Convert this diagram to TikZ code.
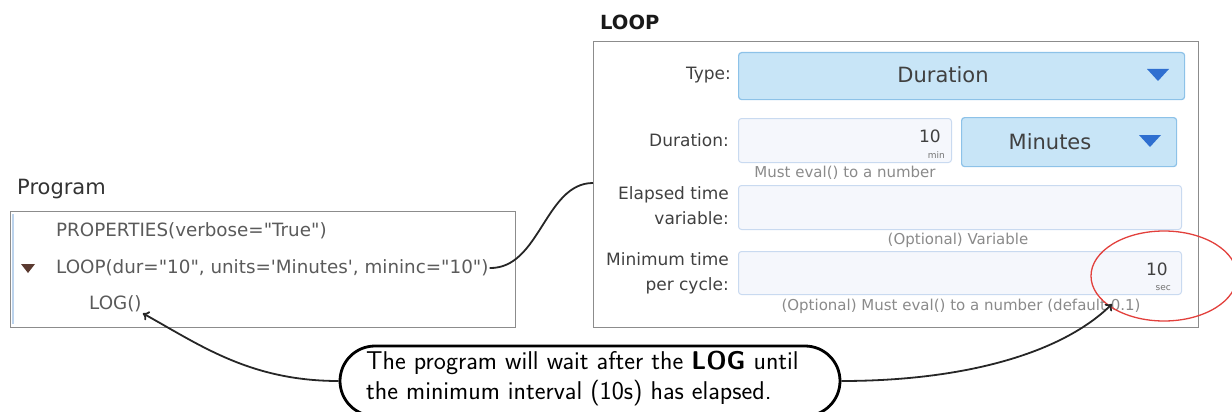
\documentclass[tikz,border=0pt]{standalone}
\usepackage{fontspec}
\setmainfont{DejaVu Sans}[Ligatures=TeXOff]
\usetikzlibrary{shapes.geometric,shapes.misc,arrows.meta}

\definecolor{frame}{HTML}{8C8C8C}
\definecolor{codetext}{HTML}{5A5A5A}
\definecolor{labeltext}{HTML}{404040}
\definecolor{hinttext}{HTML}{8A8A8A}
\definecolor{ddfill}{HTML}{C8E5F7}
\definecolor{ddborder}{HTML}{8DC2E8}
\definecolor{ddarrow}{HTML}{2F6FD0}
\definecolor{fieldfill}{HTML}{F5F7FC}
\definecolor{fieldborder}{HTML}{C9DAF0}
\definecolor{gutter}{HTML}{BCD3EC}
\definecolor{caret}{HTML}{5B3A30}
\definecolor{markred}{HTML}{E2403C}

\tikzset{
  boxframe/.style={draw=frame, line width=1.3pt, rectangle, anchor=north west, inner sep=0pt},
  dropdown/.style={draw=ddborder, fill=ddfill, line width=1.2pt, rounded corners=3pt, rectangle, anchor=north west, inner sep=0pt},
  field/.style={draw=fieldborder, fill=fieldfill, line width=1pt, rounded corners=3pt, rectangle, anchor=north west, inner sep=0pt},
  codeline/.style={anchor=west, inner sep=1pt, text=codetext, font=\fontsize{18.3}{20}\selectfont},
  formlabel/.style={anchor=east, inner sep=0pt, text=labeltext, align=right, font=\fontsize{17}{25}\selectfont},
  hint/.style={inner sep=0pt, text=hinttext, font=\fontsize{15}{17}\selectfont},
  ddtext/.style={inner sep=0pt, text=labeltext, font=\fontsize{21}{22}\selectfont},
  value/.style={anchor=east, inner sep=0pt, text=labeltext, font=\fontsize{17}{18}\selectfont},
  unit/.style={anchor=east, inner sep=0pt, text=black!55, font=\fontsize{9}{10}\selectfont},
  link/.style={draw=black!85, line width=1.8pt},
  pointer/.style={link, -{To[length=6pt,width=10pt]}},
}

\begin{document}
\begin{tikzpicture}[x=1pt,y=-1pt]
\useasboundingbox (0,0) rectangle (1232,412);

% ---------- program listing ----------
\node (proglabel) [anchor=west, inner sep=0pt, text=black!80, font=\fontsize{21}{23}\selectfont] at (17,189) {Program};
\node (prog) [boxframe, minimum width=505pt, minimum height=116pt] at (10,211) {};
\draw[gutter, line width=1.2pt] (13,214) -- (13,324);
\node (props) [codeline] at (55,231) {PROPERTIES(verbose="True")};
\fill[caret] (21,264) -- (35,264) -- (28,273) -- cycle;
\node (loopline) [codeline] at (55,268) {LOOP(dur="10", units='Minutes', mininc="10")};
\node (logline) [codeline] at (88,304) {LOG()};

% ---------- LOOP properties panel ----------
\node (looplabel) [anchor=west, inner sep=0pt, text=black!90, font=\bfseries\fontsize{19.5}{21}\selectfont] at (600,22) {LOOP};
\node (panel) [boxframe, minimum width=605pt, minimum height=286pt] at (593,41) {};
\coordinate (paneltap) at (593,183);

% Type
\node (typelbl) [formlabel] at (731,75) {Type:};
\node (typedd) [dropdown, minimum width=446pt, minimum height=47pt] at (738,52) {};
\node (typeval) [ddtext] at (943,75) {Duration};
\fill[ddarrow] (1147,69) -- (1169,69) -- (1158,81) -- cycle;

% Duration
\node (durlbl) [formlabel] at (729,140) {Duration:};
\node (durfield) [field, minimum width=213pt, minimum height=44pt] at (738,118) {};
\node (durval) [value] at (941,136) {10};
\node (durunit) [unit] at (945,155) {min};
\node (unitdd) [dropdown, minimum width=215pt, minimum height=49pt] at (961,117) {};
\node (unitval) [ddtext] at (1050,142) {Minutes};
\fill[ddarrow] (1139,135) -- (1161,135) -- (1150,147) -- cycle;
\node (durhint) [hint] at (845,173) {Must eval() to a number};

% Elapsed time variable
\node (elaplbl) [formlabel] at (729,206) {Elapsed time\\variable:};
\node (elapfield) [field, minimum width=443pt, minimum height=44pt] at (738,185) {};
\node (elaphint) [hint] at (958,240) {(Optional) Variable};

% Minimum time per cycle
\node (minlbl) [formlabel] at (729,273) {Minimum time\\per cycle:};
\node (minfield) [field, minimum width=443pt, minimum height=43pt] at (738,251) {};
\node (minval) [value] at (1168,269) {10};
\node (minunit) [unit] at (1171,288) {sec};
\node (minhint) [hint] at (961,306) {(Optional) Must eval() to a number (default 0.1)};
\coordinate (hinttip) at (1112,304);

% highlight
\node (mark) [draw=markred, line width=1.3pt, ellipse, minimum width=146pt, minimum height=90pt, inner sep=0pt] at (1164,276) {};

% ---------- explanation ----------
\node (note) [rounded rectangle, draw=black, line width=2.8pt, minimum width=500pt, minimum height=70pt, inner sep=0pt] at (590,381) {};
\node (notetext) [anchor=west, inner sep=0pt, align=left, font=\sffamily\fontsize{25.7}{30}\selectfont] at (366,379)
  {The program will wait after the \textbf{LOG} until\\the minimum interval (10s) has elapsed.};

% ---------- connectors ----------
\draw[link] (loopline.east) .. controls (540,269) and (545,183) .. (paneltap);
\draw[pointer] (note.west) .. controls (250,381) and (200,345) .. (logline.south east);
\draw[pointer] (note.east) .. controls (960,381) and (1060,355) .. (hinttip);
\end{tikzpicture}
\end{document}
